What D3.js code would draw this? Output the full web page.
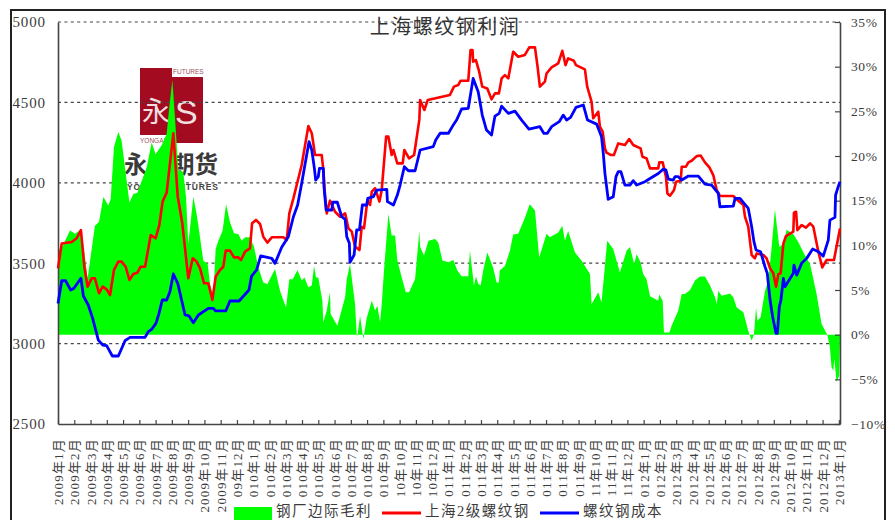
<!DOCTYPE html>
<html><head><meta charset="utf-8">
<script src="https://cdnjs.cloudflare.com/ajax/libs/d3/7.8.5/d3.min.js"></script>
<style>html,body{margin:0;padding:0;background:#fff;overflow:hidden}svg{display:block}</style>
</head><body><svg id="c" width="895" height="520"></svg>
<script>
const chartTitle = "上海螺纹钢利润";
const seriesNames = ["钢厂边际毛利", "上海2级螺纹钢", "螺纹钢成本"];
const monthLabels = ["2009年1月","2009年2月","2009年3月","2009年4月","2009年5月","2009年6月","2009年7月","2009年8月","2009年9月","2009年10月","2009年11月","09年12月",
"010年1月","010年2月","010年3月","010年4月","010年5月","010年6月","010年7月","010年8月","010年9月","10年10月","10年11月","10年12月",
"011年1月","011年2月","011年3月","011年4月","011年5月","011年6月","011年7月","011年8月","011年9月","11年10月","11年11月","11年12月",
"012年1月","012年2月","2012年3月","2012年4月","2012年5月","2012年6月","2012年7月","2012年8月","2012年9月","2012年10月","2012年11月","2012年12月","2013年1月"];
const priceTicks = [2500,3000,3500,4000,4500,5000];
const profitTicks = [-10,-5,0,5,10,15,20,25,30,35];

// month position (0 = 2009-01) and value for each series
const redMonths = [0,.23,.84,1.15,1.41,1.62,1.82,2.07,2.27,2.52,2.75,2.99,3.2,3.44,3.71,3.91,4.16,4.39,4.63,4.88,5.08,5.35,5.7,6,6.23,6.43,6.68,7.09,7.36,7.64,8.01,8.28,8.52,8.73,8.98,9.24,9.49,9.69,9.96,10.16,10.31,10.57,10.82,11.09,11.25,11.5,11.8,11.93,12.17,12.42,12.62,12.87,13.14,13.85,14.06,14.22,14.47,14.98,15.39,15.6,15.8,16.21,16.31,16.42,16.52,16.72,17.03,17.34,17.65,17.85,18.06,18.26,18.53,18.67,18.81,19.02,19.18,19.29,19.49,19.76,19.9,20.17,20.31,20.51,20.62,20.86,21.19,21.29,21.58,21.89,22.21,22.26,22.52,22.73,24.09,24.34,24.6,24.75,25.22,25.36,25.48,25.52,25.69,25.89,26.08,26.39,26.65,26.86,27.1,27.27,27.47,27.68,27.98,28.29,28.7,28.97,29.32,29.48,29.62,29.93,30.03,30.34,30.75,31,31.2,31.36,31.71,31.84,32.39,32.53,32.8,32.9,33.21,33.31,33.48,33.62,33.72,33.97,34.17,34.44,34.85,35.11,35.36,35.81,35.93,36.18,36.39,36.9,36.96,37.17,37.37,37.46,37.62,37.87,37.99,38.28,38.34,38.6,38.75,38.95,39.26,39.5,39.77,40.04,40.28,40.49,40.69,41.51,41.76,42.13,42.23,42.43,42.64,42.84,42.95,43.36,43.56,43.77,43.97,44.14,44.28,44.42,44.59,44.75,45.2,45.24,45.37,45.45,45.71,45.98,46.23,46.43,46.74,46.98,47.25,47.7,48.07];
const redValues = [3468,3623,3632,3655,3706,3478,3354,3406,3406,3313,3354,3337,3302,3458,3510,3510,3478,3396,3433,3441,3478,3478,3675,3655,3738,3883,3939,4308,3914,3748,3406,3530,3510,3468,3375,3375,3271,3416,3458,3478,3578,3578,3536,3536,3520,3572,3592,3748,3769,3744,3665,3628,3661,3661,3644,3810,3903,4111,4353,4308,4173,4173,4080,3914,3810,3889,3820,3789,3810,3717,3696,3603,3582,3727,3717,3893,3862,3945,3966,3883,3955,4287,4287,4173,4204,4121,4121,4204,4152,4173,4391,4515,4453,4515,4546,4598,4608,4635,4635,4826,4826,4753,4763,4691,4598,4587,4519,4556,4556,4649,4670,4649,4815,4784,4795,4842,4842,4722,4598,4629,4680,4718,4743,4821,4732,4774,4759,4732,4705,4598,4504,4401,4442,4349,4318,4214,4187,4173,4173,4245,4235,4272,4235,4214,4162,4152,4090,4090,4127,4127,4038,3934,3920,3955,4007,4013,4100,4100,4127,4137,4166,4170,4127,4096,4048,3955,3918,3918,3893,3862,3789,3727,3551,3530,3561,3551,3530,3468,3437,3354,3432,3437,3623,3669,3696,3814,3820,3706,3737,3721,3748,3727,3571,3474,3520,3520,3716];

const blueMonths = [0,.23,.47,.78,.98,1.41,1.56,1.86,2.13,2.48,2.75,2.99,3.34,3.71,4.12,4.43,5.35,5.55,5.76,6.02,6.21,6.41,6.68,6.88,7.09,7.36,7.81,8.05,8.32,8.63,9.24,9.55,9.69,10.31,10.57,11.13,11.74,11.9,12.21,12.46,13.14,13.34,13.75,14.16,14.47,14.73,14.98,15.43,15.6,15.76,15.84,16,16.07,16.31,16.35,16.48,16.83,16.89,17.17,17.44,17.65,17.75,17.91,17.95,18.2,18.36,18.53,18.71,18.98,19.04,19.39,19.59,20.21,20.25,20.62,20.86,21.03,21.29,21.54,21.95,22.26,23.07,23.22,23.49,24,24.3,24.5,24.81,25.22,25.52,25.83,26.08,26.34,26.65,26.86,27.12,27.27,27.68,28.09,28.5,28.95,29.62,29.87,30.07,30.34,30.81,31.06,31.26,31.51,31.84,32.29,32.55,33.11,33.41,33.52,33.62,33.82,34.13,34.3,34.44,34.6,34.85,35.16,35.36,35.57,36.08,36.39,36.9,37.21,37.37,37.52,37.82,37.93,38.13,38.34,38.75,39.36,39.77,40.18,40.59,40.69,41.51,41.62,41.92,42.43,42.64,42.78,42.91,43.19,43.46,43.6,43.77,43.93,44.14,44.22,44.34,44.44,44.59,44.69,45.2,45.24,45.41,45.71,46.02,46.39,46.74,47.04,47.35,47.45,47.76,47.8,47.96,48.07];
const blueValues = [3250,3391,3391,3333,3344,3406,3296,3240,3157,3022,2991,2987,2923,2923,3018,3039,3039,3074,3089,3126,3188,3271,3271,3323,3433,3375,3178,3172,3130,3178,3219,3219,3203,3203,3265,3265,3333,3420,3458,3545,3530,3499,3599,3665,3789,3862,3997,4256,4204,4090,4017,4038,4090,4090,3976,3831,3831,3879,3879,3789,3773,3665,3624,3505,3551,3707,3707,3862,3862,3903,3914,3955,3959,3883,3862,3924,3986,4100,4075,4075,4204,4225,4266,4308,4308,4360,4390,4459,4463,4649,4566,4421,4328,4297,4415,4432,4477,4432,4446,4390,4334,4349,4307,4307,4349,4380,4421,4390,4407,4469,4484,4390,4365,4287,4183,4059,3897,3913,4038,4069,4069,3986,3986,4013,3986,4007,4027,4058,4085,4079,4023,4017,4038,4038,4017,4042,4042,3992,3986,3934,3851,3855,3903,3903,3841,3727,3634,3582,3571,3478,3437,3271,3167,3063,3063,3229,3271,3406,3354,3437,3488,3426,3499,3530,3588,3571,3544,3644,3768,3785,3924,3976,4007];

const greenMonths = [0,.25,.74,1.05,1.41,1.6,1.82,2.27,2.52,2.79,3.09,3.24,3.44,3.71,3.91,4.39,4.63,4.88,5.08,5.45,5.76,6,6.37,6.68,6.84,7.03,7.19,7.4,7.7,7.87,8.01,8.32,8.52,8.67,8.93,9.2,9.34,9.55,9.69,9.86,10.12,10.33,10.57,10.82,11.09,11.29,11.5,11.8,12.05,12.32,12.62,12.87,13.34,13.65,14.02,14.22,14.43,14.72,14.98,15.15,15.39,15.6,15.74,15.86,16,16.25,16.31,16.52,16.72,16.76,17.17,17.65,17.75,17.95,18.26,18.36,18.4,18.57,18.77,18.98,19.29,19.49,19.63,19.8,19.9,20.04,20.31,20.51,20.72,20.86,21.13,21.38,21.58,21.95,22.21,22.26,22.5,22.77,23.18,23.38,23.63,24,24.3,24.54,24.81,25.22,25.32,25.57,25.69,25.83,25.98,26.14,26.39,26.75,26.96,27.1,27.16,27.47,27.78,27.98,28.29,28.7,29,29.32,29.58,30.03,30.24,30.75,31,31.16,31.36,31.78,32.18,32.7,32.8,33.21,33.41,33.76,34.13,34.54,34.95,35.16,35.42,35.57,35.81,35.97,36.18,36.39,36.9,36.96,37.17,37.25,37.58,37.72,38.13,38.34,38.54,38.85,39.16,39.46,39.77,40.08,40.39,40.49,40.59,40.8,41.31,41.51,41.72,42.13,42.43,42.64,42.78,42.91,42.99,43.19,43.46,43.66,43.87,44.07,44.22,44.34,44.59,44.79,45.2,45.51,45.92,46.23,46.63,46.94,47.21,47.29,47.45,47.55,47.66,47.72,47.86,48.02,48.07];
const greenValues = [9.4,9.8,11.65,11.3,11.8,9.5,6.3,12.2,12.6,15.4,14.45,15.2,21,22.7,21.7,14.8,15.75,15.9,16.9,18.7,21.5,20.2,21.2,22.5,25.45,28.5,24.3,18.4,18.2,15.4,10.15,15.45,13.5,11.65,8.3,7.9,5.7,4.2,9.6,10.5,11.65,14.6,12.6,11.35,11.25,10.5,10.9,10.9,9.8,7.5,5.85,5.65,7.35,4.9,3.05,6.2,6.2,7.25,6.05,6.4,5.3,5.5,7.7,6.4,6.4,3.8,1.4,2.7,4.75,2.3,1,4.2,6.2,7.9,3.4,.1,-.2,2.1,-.5,1.9,3.8,2.7,3.25,1.4,3.4,7.2,13.5,11.1,11.1,8.3,6.4,4.75,4.75,6.2,11.6,9.8,8.85,10.5,10.7,10.3,8.3,8.1,8.35,7.2,6.55,6.55,9.4,5.5,6.5,5.7,5.5,7.2,9.2,7.5,5.85,5.85,7.2,7.7,9.4,11.2,11.3,13.1,14.6,13.9,8.65,11.3,10.9,11.45,12.2,10.5,11.6,9.2,8.3,6.8,3.4,4.75,3.6,10.5,9.6,6.95,9.4,9.8,7.9,9,8.1,6.8,6.2,4.3,3.8,4.5,3.8,.25,.25,1,2.7,4.55,4.55,5,6.05,6.5,6.5,5.5,4.2,3.4,4.9,4.35,4.6,4.2,3.05,2.5,.45,-.65,0,3.05,1.55,1.95,4.9,6.05,9.8,14.05,11.65,9.8,10.15,11.75,11.25,10.35,8.85,7.9,4.55,1.2,.25,0,-1.4,-3.65,-4,-2.7,-5.3,-4.6,0];

const FONT = '"Liberation Serif","Noto Sans CJK SC",serif';
const TXT = "#3c3c3c";
const svg = d3.select("#c").style("font-family", FONT);

const x = d3.scaleLinear().domain([0, 48.07]).range([58, 840]);
const yL = d3.scaleLinear().domain([2500, 5000]).range([424, 22]);
const yR = d3.scaleLinear().domain([-10, 35]).range([424, 22]);

// frame
svg.append("path").attr("d", d3.line()([[11,520],[11,10],[885,10],[885,520]]))
  .attr("fill", "none").attr("stroke", "#222").attr("stroke-width", 2);

// logo (sits under grid and marks)
const logo = svg.append("g");
logo.append("rect").attr("x",140).attr("y",68).attr("width",32).attr("height",67).attr("fill","#a30b20");
logo.append("rect").attr("x",170).attr("y",77).attr("width",33).attr("height",66).attr("fill","#a30b20");
logo.append("text").text("永").attr("x",142).attr("y",122).attr("font-size",28).attr("fill","#f3dfe0").attr("font-family",'"Noto Sans CJK SC"');
logo.append("text").text("S").attr("x",175).attr("y",124).attr("font-size",34).attr("fill","#f3dfe0").attr("font-family",'"Liberation Sans"');
logo.append("text").text("FUTURES").attr("x",173).attr("y",74).attr("font-size",6.5).attr("fill","#a05060").attr("font-family",'"Liberation Sans"');
logo.append("text").text("YONGAN").attr("x",140).attr("y",143).attr("font-size",6.5).attr("fill","#a05060").attr("font-family",'"Liberation Sans"');
logo.append("text").text("永安期货").attr("x",124).attr("y",173).attr("font-size",23.5).attr("font-weight",700).attr("fill","#3a3a3a").attr("font-family",'"Noto Sans CJK SC"');
logo.append("text").text("YONGAN FUTURES").attr("x",127).attr("y",190).attr("font-size",8.5).attr("font-weight",700).attr("fill","#444").attr("textLength",91).attr("font-family",'"Liberation Sans"');

// grid
svg.append("g").selectAll("line").data(priceTicks.slice(1)).join("line")
  .attr("x1", 58).attr("x2", 840).attr("y1", d => yL(d)).attr("y2", d => yL(d))
  .attr("stroke", "#444").attr("stroke-width", 1.2).attr("stroke-dasharray", "3 3.4");

// green area
const greenData = greenMonths.map((m, i) => [m, greenValues[i]]);
svg.append("path").datum(greenData).attr("fill", "#00ff00")
  .attr("d", d3.area().x(d => x(d[0])).y0(yR(0)).y1(d => yR(d[1])));

// title sits over the top gridline
svg.append("text").text(chartTitle).attr("x", 445).attr("y", 34).attr("text-anchor", "middle")
  .attr("font-size", 20).attr("letter-spacing", 1.5).attr("fill", "#333");

// axes
function styleAxis(g) {
  g.selectAll(".domain").attr("stroke", "#444").attr("stroke-width", 1.6);
  g.selectAll(".tick line").attr("stroke", "#444").attr("stroke-width", 1.2);
  g.selectAll("text").attr("fill", TXT).style("font-family", FONT);
}
const gx = svg.append("g").attr("transform", "translate(0,424)")
  .call(d3.axisBottom(x).tickValues(d3.range(monthLabels.length)).tickFormat(i => monthLabels[i]).tickSizeInner(-4).tickSizeOuter(0));
styleAxis(gx);
gx.selectAll("text").attr("transform", "rotate(-90)").attr("x", -14).attr("y", 0).attr("dy", "0.35em")
  .attr("text-anchor", "end").attr("font-size", 13).attr("letter-spacing", 1.2);

const gl = svg.append("g").attr("transform", "translate(58,0)")
  .call(d3.axisLeft(yL).tickValues(priceTicks).tickFormat(d3.format("d")).tickSize(0).tickPadding(12));
styleAxis(gl);
gl.selectAll("text").attr("font-size", 15).attr("letter-spacing", 0.9);

const gr = svg.append("g").attr("transform", "translate(840,0)")
  .call(d3.axisRight(yR).tickValues(profitTicks).tickSizeInner(-5).tickSizeOuter(0).tickPadding(11)
    .tickFormat(d => (d < 0 ? "−" + (-d) : d) + "%"));
styleAxis(gr);
gr.selectAll("text").attr("font-size", 13.5).attr("letter-spacing", 0.6);

// lines
const lineGen = d3.line().x(d => x(d[0])).y(d => yL(d[1]));
svg.append("path").datum(redMonths.map((m, i) => [m, redValues[i]]))
  .attr("fill", "none").attr("stroke", "#ff0000").attr("stroke-width", 2.6).attr("stroke-linejoin", "round").attr("d", lineGen);
svg.append("path").datum(blueMonths.map((m, i) => [m, blueValues[i]]))
  .attr("fill", "none").attr("stroke", "#0000ff").attr("stroke-width", 2.8).attr("stroke-linejoin", "round").attr("d", lineGen);

// legend
const lg = svg.append("g").attr("font-size", 14.5).attr("letter-spacing", 1.5).attr("fill", TXT);
lg.append("rect").attr("x", 234).attr("y", 507).attr("width", 38).attr("height", 13).attr("fill", "#00ff00");
lg.append("text").text(seriesNames[0]).attr("x", 276).attr("y", 516);
lg.append("line").attr("x1", 382).attr("x2", 421).attr("y1", 513).attr("y2", 513).attr("stroke", "#ff0000").attr("stroke-width", 3);
lg.append("text").text(seriesNames[1]).attr("x", 425).attr("y", 516);
lg.append("line").attr("x1", 540).attr("x2", 579).attr("y1", 513).attr("y2", 513).attr("stroke", "#0000ff").attr("stroke-width", 3);
lg.append("text").text(seriesNames[2]).attr("x", 583).attr("y", 516);
</script></body></html>
